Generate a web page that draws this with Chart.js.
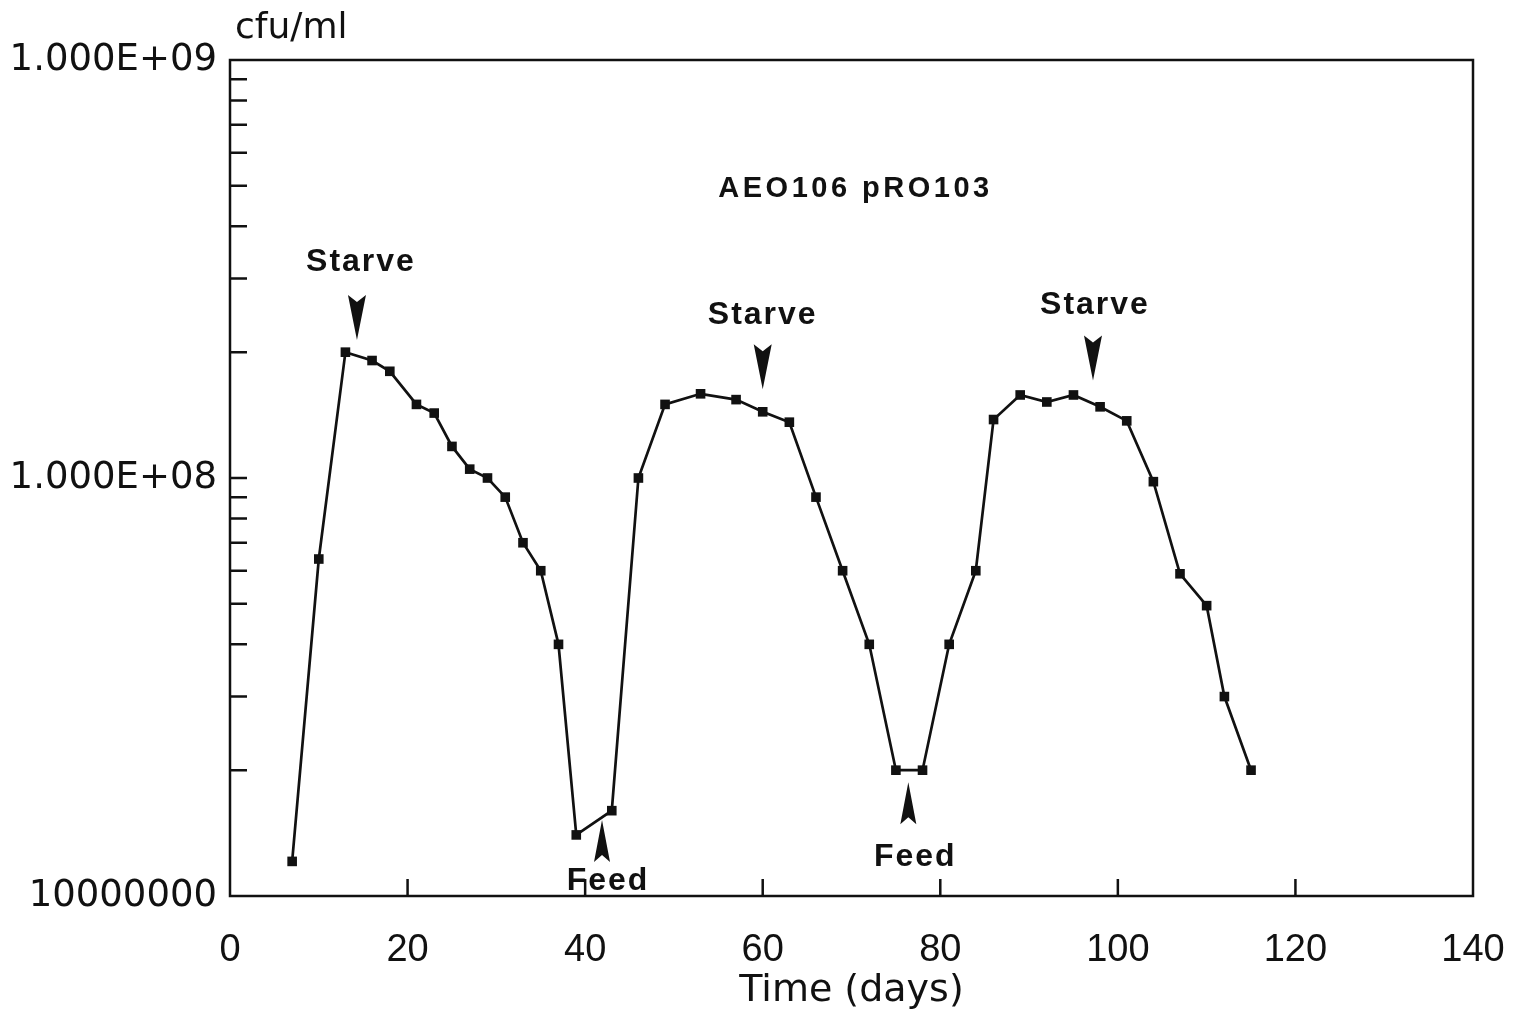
<!DOCTYPE html>
<html>
<head>
<meta charset="utf-8">
<script src="https://cdn.jsdelivr.net/npm/chart.js@4.4.1/dist/chart.umd.min.js"></script>
<style>
  html, body { margin: 0; padding: 0; background: #fff; }
  canvas { display: block; }
</style>
</head>
<body>
<canvas id="myChart" width="1516" height="1014"></canvas>
<script>
// data
const days = [7, 10, 13, 16, 18, 21, 23, 25, 27, 29, 31, 33, 35, 37, 39, 43, 46, 49, 53, 57,
              60, 63, 66, 69, 72, 75, 78, 81, 84, 86, 89, 92, 95, 98, 101, 104, 107, 110, 112, 115];
const cfu = [1.21e7, 6.4e7, 2.0e8, 1.91e8, 1.8e8, 1.5e8, 1.43e8, 1.19e8, 1.05e8, 1.0e8,
             9.0e7, 7.0e7, 6.0e7, 4.0e7, 1.4e7, 1.6e7, 1.0e8, 1.5e8, 1.59e8, 1.54e8,
             1.44e8, 1.36e8, 9.0e7, 6.0e7, 4.0e7, 2.0e7, 2.0e7, 4.0e7, 6.0e7, 1.38e8,
             1.58e8, 1.52e8, 1.58e8, 1.48e8, 1.37e8, 9.8e7, 5.9e7, 4.95e7, 3.0e7, 2.0e7];

const xTicks = [0, 20, 40, 60, 80, 100, 120, 140];
const yTickValues = [1e7, 1e8, 1e9];
const yTickLabels = ['10000000', '1.000E+08', '1.000E+09'];

const chartTitle = 'AEO106 pRO103';
const yUnit = 'cfu/ml';
const xTitle = 'Time (days)';

// arrows: label, day, value at the arrow tip
const noteTexts = ['Starve', 'Feed', 'Starve', 'Feed', 'Starve'];
const noteDays = [14.3, 41.9, 60.0, 76.4, 97.2];
const noteTips = [2.14e8, 1.52e7, 1.63e8, 1.87e7, 1.71e8];
// label offset from tip (px)
const noteDx = [4, 6, 0, 7, 2];
const noteDy = [-69, 70, -65, 84, -67];

const INK = '#111';

function drawArrow(ctx, x, y, down, w, h) {
  const s = down ? -1 : 1; // base is above tip when pointing down
  ctx.beginPath();
  ctx.moveTo(x, y);
  ctx.lineTo(x - w / 2, y + s * h);
  ctx.lineTo(x, y + s * (h - 7));
  ctx.lineTo(x + w / 2, y + s * h);
  ctx.closePath();
  ctx.fill();
}

const decor = {
  id: 'decor',
  beforeDatasetsDraw(chart) {
    const ctx = chart.ctx;
    const a = chart.chartArea;
    const xs = chart.scales.x, ys = chart.scales.y;
    ctx.save();
    ctx.strokeStyle = INK;
    ctx.lineWidth = 2.5;
    ctx.strokeRect(a.left, a.top, a.right - a.left, a.bottom - a.top);
    ctx.beginPath();
    // y ticks pointing in
    for (let e = 7; e < 9; e++) {
      for (let m = 1; m < 10; m++) {
        if (e === 7 && m === 1) continue;
        const py = ys.getPixelForValue(m * Math.pow(10, e));
        ctx.moveTo(a.left, py);
        ctx.lineTo(a.left + 17, py);
      }
    }
    // x ticks pointing in
    xTicks.forEach(v => {
      if (v <= xs.min || v >= xs.max) return;
      const px = xs.getPixelForValue(v);
      ctx.moveTo(px, a.bottom);
      ctx.lineTo(px, a.bottom - 17);
    });
    ctx.stroke();
    ctx.restore();
  },
  afterDraw(chart) {
    const ctx = chart.ctx;
    const a = chart.chartArea;
    const xs = chart.scales.x, ys = chart.scales.y;
    ctx.save();
    ctx.fillStyle = INK;
    ctx.textAlign = 'left';
    ctx.textBaseline = 'alphabetic';
    ctx.font = '36px "DejaVu Sans"';
    ctx.fillText(yUnit, 235, 38);

    ctx.textAlign = 'center';
    ctx.font = 'bold 29px "Liberation Sans"';
    ctx.letterSpacing = '3.5px';
    ctx.fillText(chartTitle, (a.left + a.right) / 2 + 4, 197);

    ctx.font = 'bold 32px "Liberation Sans"';
    ctx.letterSpacing = '2px';
    noteTexts.forEach((t, i) => {
      const px = xs.getPixelForValue(noteDays[i]);
      const py = ys.getPixelForValue(noteTips[i]);
      const down = noteDy[i] < 0;
      if (down) drawArrow(ctx, px, py, true, 18, 45);
      else drawArrow(ctx, px, py, false, 16, 42);
      ctx.fillText(t, px + noteDx[i], py + noteDy[i]);
    });
    ctx.restore();
  }
};

const ctx = document.getElementById('myChart').getContext('2d');
const myChart = new Chart(ctx, {
  type: 'line',
  data: {
    datasets: [{
      data: days.map((d, i) => ({ x: d, y: cfu[i] })),
      borderColor: INK,
      backgroundColor: INK,
      borderWidth: 2.7,
      pointStyle: 'rect',
      pointRadius: 6.8,
      pointBorderWidth: 0,
      tension: 0,
      fill: false
    }]
  },
  options: {
    responsive: false,
    animation: false,
    layout: { padding: { top: 60, right: 43, left: 0, bottom: 0 } },
    plugins: { legend: { display: false }, tooltip: { enabled: false } },
    scales: {
      x: {
        type: 'linear',
        min: 0,
        max: 140,
        afterBuildTicks: s => { s.ticks = xTicks.map(v => ({ value: v })); },
        grid: { display: false, drawTicks: false },
        border: { display: false },
        ticks: {
          color: INK,
          padding: 32,
          maxRotation: 0,
          autoSkip: false,
          font: { family: 'Liberation Sans', size: 38 }
        },
        title: {
          display: true,
          text: xTitle,
          color: INK,
          padding: { top: 0, bottom: 0 },
          font: { family: 'DejaVu Sans', size: 38 }
        },
        afterFit: s => { s.height = 118; s.paddingLeft = 0; s.paddingRight = 0; }
      },
      y: {
        type: 'logarithmic',
        min: 1e7,
        max: 1e9,
        afterBuildTicks: s => { s.ticks = yTickValues.map(v => ({ value: v })); },
        grid: { display: false, drawTicks: false },
        border: { display: false },
        ticks: {
          color: INK,
          padding: 13,
          autoSkip: false,
          font: { family: 'DejaVu Sans', size: 37 },
          callback: v => {
            const i = yTickValues.indexOf(v);
            return i >= 0 ? yTickLabels[i] : '';
          }
        },
        afterFit: s => { s.width = 230; s.paddingTop = 0; s.paddingBottom = 0; }
      }
    }
  },
  plugins: [decor]
});
</script>
</body>
</html>
